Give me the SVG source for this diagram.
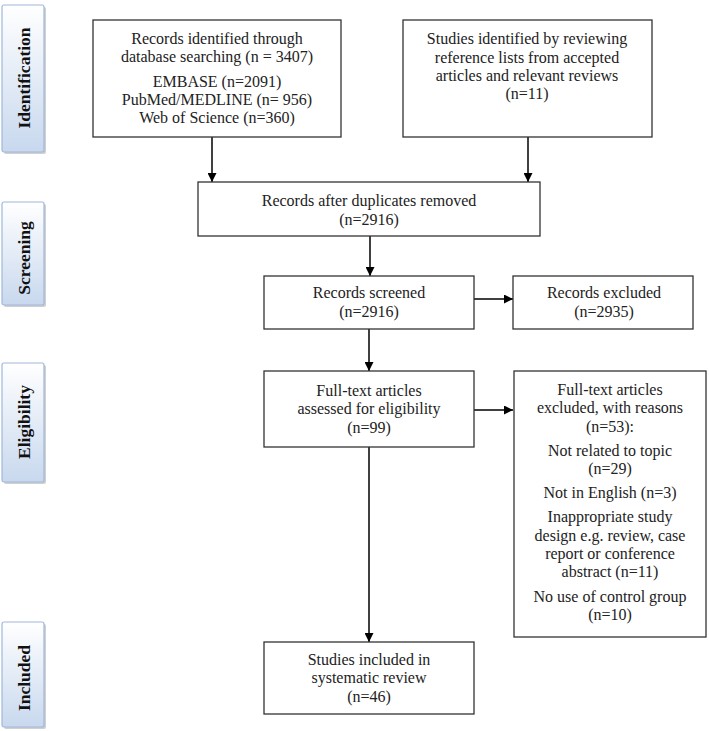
<svg xmlns="http://www.w3.org/2000/svg" width="709" height="731" viewBox="0 0 709 731">
<defs>
<linearGradient id="pg" x1="0" y1="0" x2="0" y2="1">
<stop offset="0" stop-color="#ffffff"/>
<stop offset="1" stop-color="#c8d8ee"/>
</linearGradient>
<marker id="ah" viewBox="0 0 10 10" refX="10" refY="5" markerWidth="9" markerHeight="9" markerUnits="userSpaceOnUse" orient="auto">
<path d="M0,0 L10,5 L0,10 z" fill="#000"/>
</marker>
</defs>
<style>
.panel{fill:url(#pg);stroke:#9fb8da;stroke-width:1.2}
.shadow{fill:#d0d0d0}
.plabel{font-family:"Liberation Serif","Times New Roman",serif;font-weight:bold;font-size:17.5px;fill:#111;text-anchor:middle}
.box{fill:#fff;stroke:#333;stroke-width:1.3}
.t{font-family:"Liberation Serif","Times New Roman",serif;font-size:16px;fill:#222;text-anchor:middle}
.c{stroke:#000;stroke-width:1.5;fill:none;marker-end:url(#ah)}
.l{stroke:#000;stroke-width:1.5;fill:none}
</style>

<g id="panel-identification">
<rect class="shadow" x="4" y="7" width="42" height="147" rx="2"/>
<rect class="panel" x="2" y="5" width="42" height="147" rx="2"/>
<text class="plabel" transform="translate(30,78) rotate(-90)">Identification</text>
</g>
<g id="panel-screening">
<rect class="shadow" x="4" y="204" width="42" height="103" rx="2"/>
<rect class="panel" x="2" y="202" width="42" height="103" rx="2"/>
<text class="plabel" transform="translate(30,258) rotate(-90)">Screening</text>
</g>
<g id="panel-eligibility">
<rect class="shadow" x="4" y="365" width="42" height="119" rx="2"/>
<rect class="panel" x="2" y="363" width="42" height="119" rx="2"/>
<text class="plabel" transform="translate(30,422) rotate(-90)">Eligibility</text>
</g>
<g id="panel-included">
<rect class="shadow" x="4" y="624" width="42" height="105" rx="2"/>
<rect class="panel" x="2" y="622" width="42" height="105" rx="2"/>
<text class="plabel" transform="translate(30,678) rotate(-90)">Included</text>
</g>

<g id="connectors">
<path class="c" d="M212,137 V182"/>
<path class="c" d="M528,137 V182"/>
<path class="c" d="M370,236 V276"/>
<path class="c" d="M474,299 H513"/>
<path class="c" d="M369,329 V371"/>
<path class="c" d="M474,410 H513"/>
<path class="c" d="M369,447 V642"/>
</g>

<g id="box-database">
<rect class="box" x="93" y="20" width="248" height="117"/>
<text class="t" x="217" y="44">Records identified through</text>
<text class="t" x="217" y="62">database searching (n = 3407)</text>
<text class="t" x="217" y="87">EMBASE (n=2091)</text>
<text class="t" x="217" y="105">PubMed/MEDLINE (n= 956)</text>
<text class="t" x="217" y="123">Web of Science (n=360)</text>
</g>
<g id="box-reference">
<rect class="box" x="403" y="20" width="249" height="117"/>
<text class="t" x="527" y="44">Studies identified by reviewing</text>
<text class="t" x="527" y="63">reference lists from accepted</text>
<text class="t" x="527" y="81">articles and relevant reviews</text>
<text class="t" x="527" y="99">(n=11)</text>
</g>
<g id="box-duplicates">
<rect class="box" x="198" y="182" width="342" height="54"/>
<text class="t" x="369" y="206">Records after duplicates removed</text>
<text class="t" x="369" y="225">(n=2916)</text>
</g>
<g id="box-screened">
<rect class="box" x="264" y="276" width="210" height="53"/>
<text class="t" x="369" y="298">Records screened</text>
<text class="t" x="369" y="317">(n=2916)</text>
</g>
<g id="box-excluded">
<rect class="box" x="513" y="276" width="180" height="53"/>
<text class="t" x="604" y="298">Records excluded</text>
<text class="t" x="604" y="317">(n=2935)</text>
</g>
<g id="box-fulltext">
<rect class="box" x="264" y="371" width="210" height="76"/>
<text class="t" x="369" y="396">Full-text articles</text>
<text class="t" x="369" y="414">assessed for eligibility</text>
<text class="t" x="369" y="433">(n=99)</text>
</g>
<g id="box-fulltext-excluded">
<rect class="box" x="514" y="371" width="192" height="266"/>
<text class="t" x="610" y="395">Full-text articles</text>
<text class="t" x="610" y="413">excluded, with reasons</text>
<text class="t" x="610" y="432">(n=53):</text>
<text class="t" x="610" y="456">Not related to topic</text>
<text class="t" x="610" y="474">(n=29)</text>
<text class="t" x="610" y="498">Not in English (n=3)</text>
<text class="t" x="610" y="522">Inappropriate study</text>
<text class="t" x="610" y="541">design e.g. review, case</text>
<text class="t" x="610" y="559">report or conference</text>
<text class="t" x="610" y="577">abstract (n=11)</text>
<text class="t" x="610" y="602">No use of control group</text>
<text class="t" x="610" y="620">(n=10)</text>
</g>
<g id="box-included">
<rect class="box" x="264" y="642" width="210" height="72"/>
<text class="t" x="369" y="665">Studies included in</text>
<text class="t" x="369" y="683">systematic review</text>
<text class="t" x="369" y="702">(n=46)</text>
</g>
</svg>
